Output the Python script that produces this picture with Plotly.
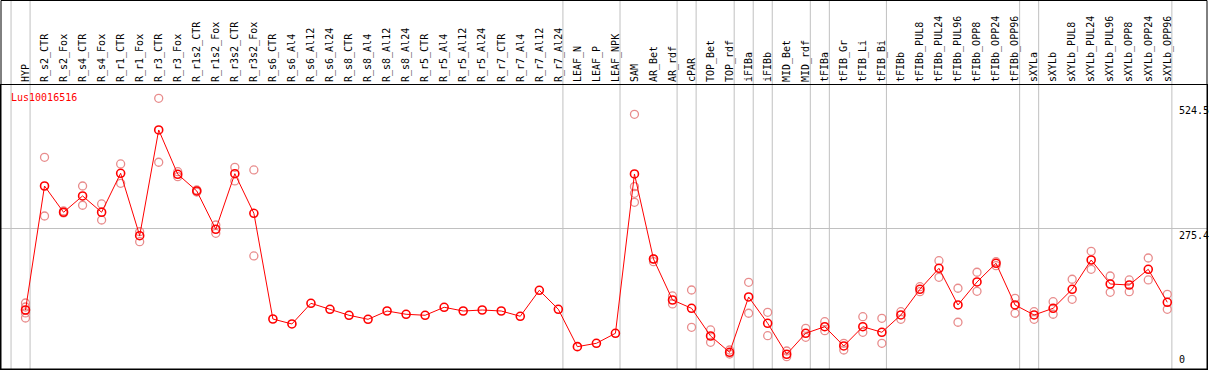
import plotly.graph_objects as go

categories = ["HYP", "R_s2_CTR", "R_s2_Fox", "R_s4_CTR", "R_s4_Fox", "R_r1_CTR", "R_r1_Fox",
              "R_r3_CTR", "R_r3_Fox", "R_r1s2_CTR", "R_r1s2_Fox", "R_r3s2_CTR", "R_r3s2_Fox",
              "R_s6_CTR", "R_s6_Al4", "R_s6_Al12", "R_s6_Al24", "R_s8_CTR", "R_s8_Al4", "R_s8_Al12",
              "R_s8_Al24", "R_r5_CTR", "R_r5_Al4", "R_r5_Al12", "R_r5_Al24", "R_r7_CTR", "R_r7_Al4",
              "R_r7_Al12", "R_r7_Al24", "LEAF_N", "LEAF_P", "LEAF_NPK", "SAM", "AR_Bet", "AR_rdf",
              "cPAR", "TOP_Bet", "TOP_rdf", "iFIBa", "iFIBb", "MID_Bet", "MID_rdf", "tFIBa",
              "tFIB_Gr", "tFIB_Li", "tFIB_Bi", "tFIBb", "tFIBb_PUL8", "tFIBb_PUL24", "tFIBb_PUL96",
              "tFIBb_OPP8", "tFIBb_OPP24", "tFIBb_OPP96", "sXYLa", "sXYLb", "sXYLb_PUL8",
              "sXYLb_PUL24", "sXYLb_PUL96", "sXYLb_OPP8", "sXYLb_OPP24", "sXYLb_OPP96"]

mean_values = [112.9, 359.4, 307.2, 339.6, 307.2, 384.7, 260.6, 470.8, 382.7, 349.5, 273.4, 383.9,
               305.2, 95.0, 85.1, 126.2, 114.3, 102.4, 94.4, 110.9, 104.4, 102.4, 118.3, 110.9,
               112.9, 110.9, 100.4, 152.1, 114.3, 40.0, 46.7, 66.6, 383.3, 214.3, 132.8, 116.3,
               61.2, 28.8, 138.8, 86.5, 24.9, 66.6, 79.7, 41.4, 79.7, 68.6, 103.0, 154.1, 195.8,
               122.9, 168.6, 205.8, 122.9, 103.0, 116.3, 154.1, 212.3, 164.6, 162.6, 193.8, 128.2]

replicate_values = [
    [126.8, 118.9, 107.0, 97.0], [416.5, 299.8], [309.7, 305.8], [359.4, 321.1], [323.7, 291.8],
    [403.2, 364.8], [268.6, 248.7], [533.8, 406.6], [387.9, 377.9], [351.5, 347.5],
    [281.9, 265.4], [396.6, 369.4], [391.3, 220.3],
    [], [], [], [], [], [], [], [], [], [], [], [], [], [], [], [],
    [], [], [],
    [502.0, 358.1, 344.9, 327.0], [214.3, 208.9], [140.8, 124.9], [152.7, 78.5], [73.2, 48.7],
    [33.4, 25.4], [168.0, 106.4], [108.3, 61.8], [31.4, 20.1], [76.5, 58.6], [89.7, 71.8],
    [46.7, 33.4], [99.6, 68.6], [96.4, 46.7], [109.5, 94.4], [159.2, 149.3], [210.9, 177.9],
    [156.1, 88.5], [187.9, 150.1], [208.9, 201.0], [136.2, 106.4], [109.5, 94.4],
    [129.4, 104.4], [174.0, 134.2], [229.6, 193.8], [180.5, 148.1], [172.6, 149.3],
    [216.3, 172.6], [144.1, 114.3],
]

group_last_index = [-1, 0, 28, 31, 34, 35, 37, 38, 39, 41, 42, 45, 52, 53, 60]

y_tick_values = [524.5, 275.4, 0]
y_tick_labels = ["524.5", "275.4", "0"]
gene_name = "Lus10016516"

MONO = "DejaVu Sans Mono, Liberation Mono, monospace"
W, H = 1209, 370
ML, MR, MT, MB = 1, 2, 85, 1
plot_h = H - MT - MB
plot_w = W - ML - MR

idx = list(range(len(categories)))
rep_x, rep_y = [], []
for i, reps in enumerate(replicate_values):
    for v in reps:
        rep_x.append(i)
        rep_y.append(v)

fig = go.Figure()
fig.add_trace(go.Scatter(
    x=rep_x, y=rep_y, mode="markers",
    marker=dict(symbol="circle-open", size=8, color="#E88C8C", line=dict(width=1.3, color="#E88C8C")),
    hoverinfo="skip", showlegend=False, cliponaxis=False))
fig.add_trace(go.Scatter(
    x=idx, y=mean_values, mode="lines+markers",
    line=dict(color="#FF0000", width=1),
    marker=dict(symbol="circle-open", size=8, color="#FF0000", line=dict(width=1.6, color="#FF0000")),
    showlegend=False, cliponaxis=False))

shapes = []
for g in group_last_index:
    shapes.append(dict(type="line", xref="x", yref="paper", x0=g + 0.24, x1=g + 0.24,
                       y0=0, y1=1 + MT / plot_h, line=dict(color="#C0C0C0", width=1), layer="below"))
# outer border
shapes.append(dict(type="rect", xref="paper", yref="paper", x0=0, x1=1, y0=0,
                   y1=1 + (MT - 0.5) / plot_h, line=dict(color="black", width=1)))

annotations = [dict(text=gene_name, xref="paper", yref="paper", x=8 / plot_w, y=1 - 12.5 / plot_h,
                    xanchor="left", yanchor="middle", showarrow=False,
                    font=dict(family=MONO, size=10, color="#FF0000"))]
for v, t in zip(y_tick_values, y_tick_labels):
    annotations.append(dict(text=t, xref="paper", yref="y", x=(1177 - ML) / plot_w, y=v,
                            xanchor="left", yanchor="bottom" if v == 0 else "top",
                            showarrow=False, font=dict(family=MONO, size=10, color="black")))

px0 = 25.5
step = 19.03
x0 = (ML - px0) / step
x1 = (W - MR - px0) / step

fig.update_layout(
    width=W, height=H, margin=dict(l=ML, r=MR, t=MT, b=MB, pad=0, autoexpand=False),
    paper_bgcolor="white", plot_bgcolor="white",
    shapes=shapes, annotations=annotations,
    xaxis=dict(range=[x0, x1], side="top", tickmode="array", tickvals=idx, ticktext=categories,
               tickangle=-90, ticks="", showgrid=False, zeroline=False, automargin=False,
               showline=True, linecolor="black", linewidth=1, mirror=True,
               tickfont=dict(family=MONO, size=10, color="black"), ticklabelstandoff=0),
    yaxis=dict(range=[-4.4, 560.2], tickvals=[275.4], showticklabels=False, ticks="",
               showgrid=True, gridcolor="#C0C0C0", gridwidth=1, zeroline=False, automargin=False,
               showline=True, linecolor="black", linewidth=1, mirror=True),
)

fig.write_html("out.html", config={"displayModeBar": False},
               post_script="document.body.style.margin='0';document.body.style.overflow='hidden';")
